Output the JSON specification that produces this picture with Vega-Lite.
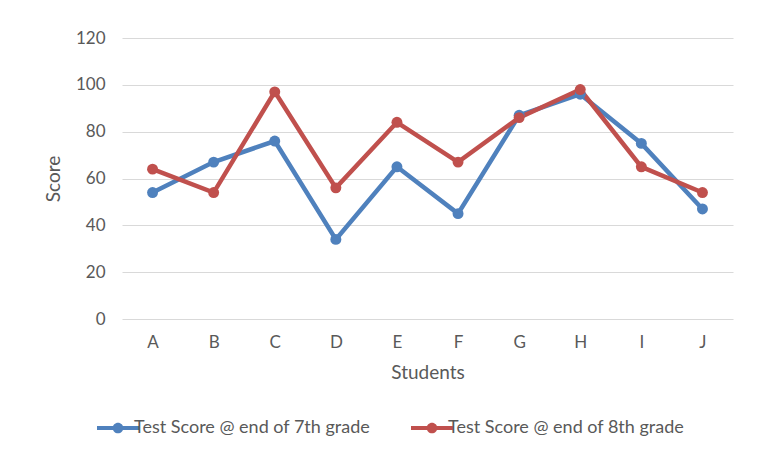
{
  "$schema": "https://vega.github.io/schema/vega-lite/v6.json",
  "width": 611,
  "height": 281,
  "autosize": {"type": "none"},
  "padding": {"left": 122, "top": 38, "right": 35, "bottom": 157},
  "background": "white",
  "data": {
    "values": [
      {"student": "A", "series": "Test Score @ end of 7th grade", "score": 54},
      {"student": "B", "series": "Test Score @ end of 7th grade", "score": 67},
      {"student": "C", "series": "Test Score @ end of 7th grade", "score": 76},
      {"student": "D", "series": "Test Score @ end of 7th grade", "score": 34},
      {"student": "E", "series": "Test Score @ end of 7th grade", "score": 65},
      {"student": "F", "series": "Test Score @ end of 7th grade", "score": 45},
      {"student": "G", "series": "Test Score @ end of 7th grade", "score": 87},
      {"student": "H", "series": "Test Score @ end of 7th grade", "score": 96},
      {"student": "I", "series": "Test Score @ end of 7th grade", "score": 75},
      {"student": "J", "series": "Test Score @ end of 7th grade", "score": 47},
      {"student": "A", "series": "Test Score @ end of 8th grade", "score": 64},
      {"student": "B", "series": "Test Score @ end of 8th grade", "score": 54},
      {"student": "C", "series": "Test Score @ end of 8th grade", "score": 97},
      {"student": "D", "series": "Test Score @ end of 8th grade", "score": 56},
      {"student": "E", "series": "Test Score @ end of 8th grade", "score": 84},
      {"student": "F", "series": "Test Score @ end of 8th grade", "score": 67},
      {"student": "G", "series": "Test Score @ end of 8th grade", "score": 86},
      {"student": "H", "series": "Test Score @ end of 8th grade", "score": 98},
      {"student": "I", "series": "Test Score @ end of 8th grade", "score": 65},
      {"student": "J", "series": "Test Score @ end of 8th grade", "score": 54}
    ]
  },
  "encoding": {
    "x": {
      "field": "student",
      "type": "ordinal",
      "scale": {"type": "point", "padding": 0.5},
      "axis": {
        "title": "Students",
        "labelAngle": 0,
        "labelPadding": 15,
        "titlePadding": 13,
        "domain": false,
        "ticks": false,
        "grid": false
      }
    },
    "y": {
      "field": "score",
      "type": "quantitative",
      "scale": {"domain": [0, 120], "nice": false},
      "axis": {
        "title": "Score",
        "values": [0, 20, 40, 60, 80, 100, 120],
        "labelPadding": 17,
        "titlePadding": 12,
        "domain": false,
        "ticks": false,
        "grid": true
      }
    },
    "color": {
      "field": "series",
      "type": "nominal",
      "scale": {"range": ["#4F81BD", "#C0504D"]},
      "legend": {
        "title": null,
        "orient": "none",
        "legendX": -18,
        "legendY": 376,
        "direction": "horizontal",
        "columns": 2,
        "columnPadding": 40,
        "symbolType": "M-1.5,-0.15 H1.5 V0.15 H-1.5 Z M0.38,0 A0.38,0.38 0 1,1 -0.38,0 A0.38,0.38 0 1,1 0.38,0 Z",
        "symbolSize": 784,
        "symbolStrokeWidth": 0,
        "labelOffset": 2
      }
    }
  },
  "layer": [
    {"mark": {"type": "line", "strokeWidth": 4.5}},
    {"mark": {"type": "point", "filled": true, "size": 120, "opacity": 1}}
  ],
  "config": {
    "font": "Lato",
    "view": {"stroke": null},
    "axis": {
      "labelFont": "Lato",
      "labelFontSize": 17,
      "labelColor": "#595959",
      "titleFont": "Lato",
      "titleFontSize": 19,
      "titleFontWeight": "normal",
      "titleColor": "#595959",
      "gridColor": "#D9D9D9",
      "gridWidth": 1
    },
    "legend": {
      "labelFont": "Lato",
      "labelFontSize": 18,
      "labelColor": "#595959",
      "labelLimit": 400
    }
  }
}
